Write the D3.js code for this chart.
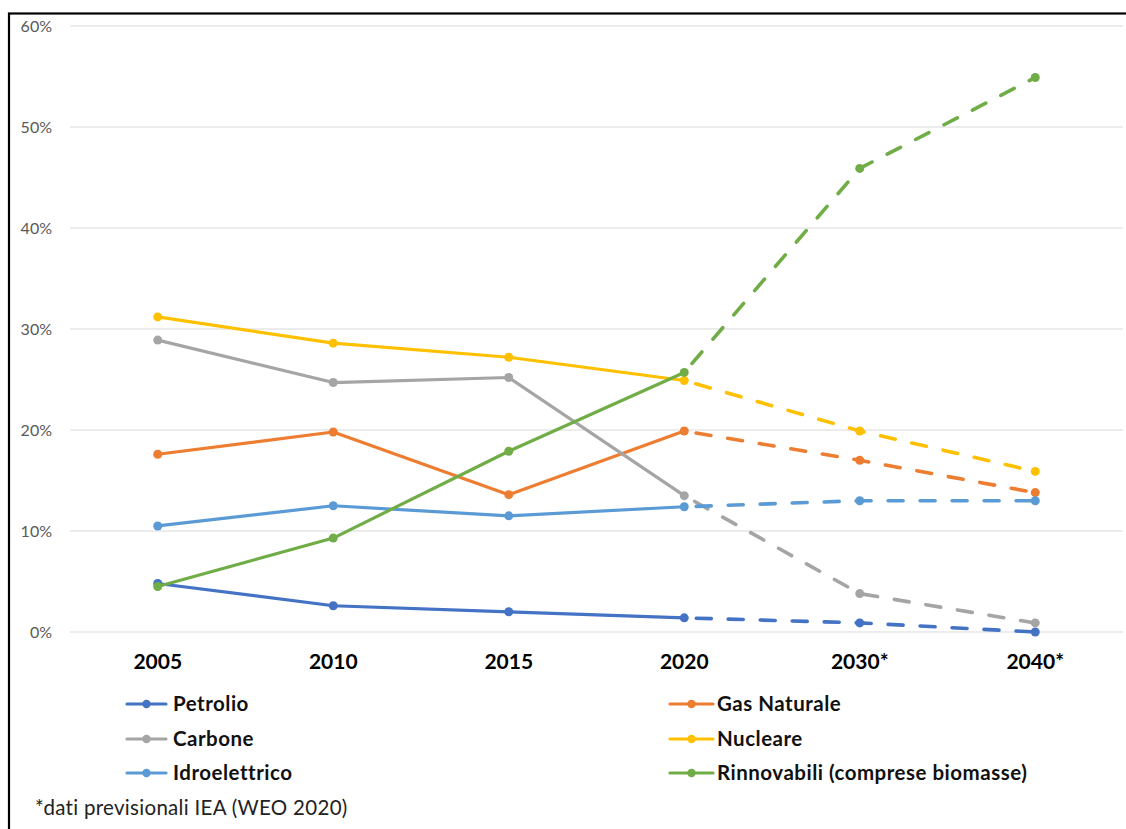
<!DOCTYPE html>
<html>
<head>
<meta charset="utf-8">
<script src="https://cdn.jsdelivr.net/npm/d3@7"></script>
<style>
  html, body { margin: 0; padding: 0; background: #fff; }
  svg { display: block; }
</style>
</head>
<body>
<svg id="chart" width="1126" height="829"></svg>
<script>
// Categories (years; starred ones are IEA projections)
const years = ["2005", "2010", "2015", "2020", "2030*", "2040*"];

// Share of each source, in percent
const petrolio    = [4.8, 2.6, 2.0, 1.4, 0.9, 0.0];
const gasNaturale = [17.6, 19.8, 13.6, 19.9, 17.0, 13.8];
const carbone     = [28.9, 24.7, 25.2, 13.5, 3.8, 0.9];
const nucleare    = [31.2, 28.6, 27.2, 24.9, 19.9, 15.9];
const idro        = [10.5, 12.5, 11.5, 12.4, 13.0, 13.0];
const rinnovabili = [4.5, 9.3, 17.9, 25.7, 45.9, 54.9];

const seriesNames = ["Petrolio", "Gas Naturale", "Carbone", "Nucleare", "Idroelettrico", "Rinnovabili (comprese biomasse)"];
const seriesValues = [petrolio, gasNaturale, carbone, nucleare, idro, rinnovabili];
const seriesColors = ["#4472C4", "#ED7D31", "#A5A5A5", "#FFC000", "#5B9BD5", "#70AD47"];

const yTicks = [0, 10, 20, 30, 40, 50, 60];
const footnote = "*dati previsionali IEA (WEO 2020)";
const firstForecast = 3; // index of 2020: dashed segments start here

const svg = d3.select("#chart");
const font = "Lato, 'Open Sans', sans-serif";

// outer frame (top and left edges visible)
svg.append("rect")
  .attr("x", 9).attr("y", 13.5)
  .attr("width", 1200).attr("height", 900)
  .attr("fill", "none").attr("stroke", "#000").attr("stroke-width", 2.2);

const plotLeft = 70, plotRight = 1123;
const x = d3.scaleBand().domain(years).range([plotLeft, plotRight]).padding(0);
const xc = d => x(d) + x.bandwidth() / 2;
const y = d3.scaleLinear().domain([0, 60]).range([632, 26]);

// gridlines
svg.append("g").selectAll("line").data(yTicks).join("line")
  .attr("x1", plotLeft).attr("x2", plotRight)
  .attr("y1", d => y(d)).attr("y2", d => y(d))
  .attr("stroke", "#d9d9d9").attr("stroke-width", 1.2);

// y axis labels
const yAxis = d3.axisLeft(y).tickValues(yTicks).tickFormat(d => d + "%").tickSize(0).tickPadding(0);
const gy = svg.append("g").attr("transform", "translate(52,0)").call(yAxis);
gy.select(".domain").remove();
gy.selectAll("text")
  .attr("font-family", font).attr("font-size", 16).attr("fill", "#595959");

// x axis labels
const xAxis = d3.axisBottom(x).tickSize(0).tickPadding(0);
const gx = svg.append("g").attr("transform", "translate(0,654)").call(xAxis);
gx.select(".domain").remove();
gx.selectAll("text")
  .attr("font-family", font).attr("font-size", 21).attr("font-weight", "bold").attr("fill", "#000");

const line = d3.line().x(d => xc(d.year)).y(d => y(d.v));

// series
seriesValues.forEach((vals, i) => {
  const pts = vals.map((v, k) => ({ year: years[k], v }));
  const g = svg.append("g");
  g.append("path")
    .datum(pts.slice(0, firstForecast + 1))
    .attr("d", line)
    .attr("fill", "none").attr("stroke", seriesColors[i])
    .attr("stroke-width", 3.2).attr("stroke-linejoin", "round").attr("stroke-linecap", "round");
  g.append("path")
    .datum(pts.slice(firstForecast))
    .attr("d", line)
    .attr("fill", "none").attr("stroke", seriesColors[i])
    .attr("stroke-width", 3.6).attr("stroke-linejoin", "round").attr("stroke-linecap", "round")
    .attr("stroke-dasharray", "15,17").attr("stroke-dashoffset", -12);
  g.selectAll("circle").data(pts).join("circle")
    .attr("cx", d => xc(d.year)).attr("cy", d => y(d.v)).attr("r", 4.5)
    .attr("fill", seriesColors[i]);
});

// legend: two columns, three rows
const legendCols = [{ x1: 127, x2: 166, tx: 173 }, { x1: 670, x2: 713, tx: 717 }];
const legendRows = [704, 739, 773];
const legend = svg.append("g");
seriesNames.forEach((name, i) => {
  const c = legendCols[i % 2], ry = legendRows[Math.floor(i / 2)];
  legend.append("line")
    .attr("x1", c.x1).attr("x2", c.x2).attr("y1", ry).attr("y2", ry)
    .attr("stroke", seriesColors[i]).attr("stroke-width", 3.2).attr("stroke-linecap", "round");
  legend.append("circle")
    .attr("cx", (c.x1 + c.x2) / 2).attr("cy", ry).attr("r", 4.2).attr("fill", seriesColors[i]);
  legend.append("text")
    .attr("x", c.tx).attr("y", ry).attr("dy", "0.35em")
    .attr("font-family", font).attr("font-size", 20.5).attr("font-weight", "bold")
    .attr("letter-spacing", 0.5).attr("fill", "#111")
    .text(name);
});

// footnote
svg.append("text")
  .attr("x", 35).attr("y", 808).attr("dy", "0.35em")
  .attr("font-family", font).attr("font-size", 20.5).attr("letter-spacing", 0.3).attr("fill", "#222")
  .text(footnote);
</script>
</body>
</html>
